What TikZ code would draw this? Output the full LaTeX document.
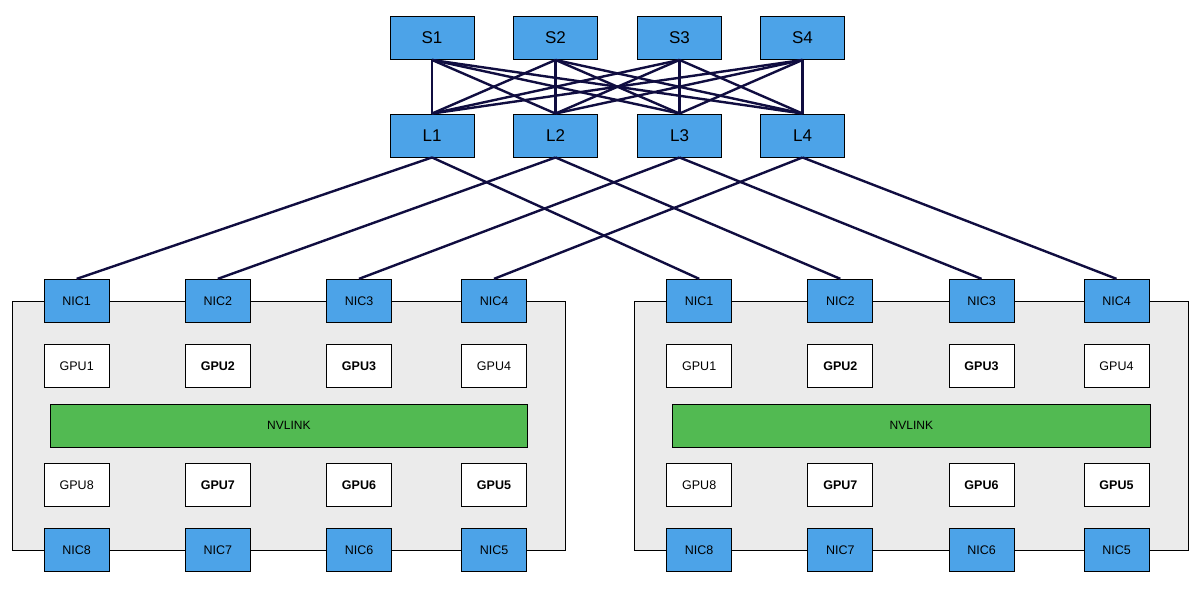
\documentclass[tikz,border=0pt]{standalone}
\usepackage{fontspec}
\setmainfont{Liberation Sans}
\definecolor{swblue}{HTML}{4CA3E8}
\definecolor{nvgreen}{HTML}{52BA52}
\definecolor{srvgray}{HTML}{EBEBEB}
\definecolor{wire}{HTML}{100D40}
\begin{document}
\begin{tikzpicture}[x=1pt,y=-1pt,
  swbox/.style={draw=black,line width=0.9pt,fill=swblue,minimum width=84pt,minimum height=43pt,inner sep=0pt,font=\fontsize{17}{20}\selectfont},
  nicbox/.style={draw=black,line width=0.9pt,fill=swblue,minimum width=65pt,minimum height=43pt,inner sep=0pt,font=\fontsize{12.5}{14}\selectfont},
  gpubox/.style={draw=black,line width=0.9pt,fill=white,minimum width=65pt,minimum height=43pt,inner sep=0pt,font=\fontsize{12.5}{14}\selectfont},
  nvbox/.style={draw=black,line width=0.9pt,fill=nvgreen,minimum width=477.7pt,minimum height=43pt,inner sep=0pt,font=\fontsize{12}{14}\selectfont},
  srvbox/.style={draw=black,line width=0.9pt,fill=srvgray},
  link/.style={draw=wire,line width=2.4pt}
]
\useasboundingbox[fill=white] (0,0) rectangle (1200,595);

% switches
\node[swbox] (S1) at (432,38) {S1};
\node[swbox] (S2) at (555.5,38) {S2};
\node[swbox] (S3) at (679.5,38) {S3};
\node[swbox] (S4) at (802.5,38) {S4};
\node[swbox] (L1) at (432,135.5) {L1};
\node[swbox] (L2) at (555.5,135.5) {L2};
\node[swbox] (L3) at (679.5,135.5) {L3};
\node[swbox] (L4) at (802.5,135.5) {L4};

% servers
\foreach \s/\dx in {A/0,B/622.5}{
  \node[srvbox,minimum width=553.7pt,minimum height=248.3pt,inner sep=0pt] (srv\s) at (288.85+\dx,425.85) {};
  \node[nvbox] (nv\s) at (288.85+\dx,425.8) {NVLINK};
  \node[nicbox] (\s nic1) at (76.7+\dx,300.8) {NIC1};
  \node[nicbox] (\s nic2) at (217.8+\dx,300.8) {NIC2};
  \node[nicbox] (\s nic3) at (359+\dx,300.8) {NIC3};
  \node[nicbox] (\s nic4) at (494+\dx,300.8) {NIC4};
  \node[nicbox] (\s nic8) at (76.7+\dx,549.8) {NIC8};
  \node[nicbox] (\s nic7) at (217.8+\dx,549.8) {NIC7};
  \node[nicbox] (\s nic6) at (359+\dx,549.8) {NIC6};
  \node[nicbox] (\s nic5) at (494+\dx,549.8) {NIC5};
  \node[gpubox] (\s gpu1) at (76.7+\dx,365.8) {GPU1};
  \node[gpubox] (\s gpu2) at (217.8+\dx,365.8) {\textbf{GPU2}};
  \node[gpubox] (\s gpu3) at (359+\dx,365.8) {\textbf{GPU3}};
  \node[gpubox] (\s gpu4) at (494+\dx,365.8) {GPU4};
  \node[gpubox] (\s gpu8) at (76.7+\dx,484.8) {GPU8};
  \node[gpubox] (\s gpu7) at (217.8+\dx,484.8) {\textbf{GPU7}};
  \node[gpubox] (\s gpu6) at (359+\dx,484.8) {\textbf{GPU6}};
  \node[gpubox] (\s gpu5) at (494+\dx,484.8) {\textbf{GPU5}};
}

% spine-leaf mesh
\foreach \i in {1,...,4}{
  \foreach \j in {1,...,4}{
    \draw[link] (S\i.south) -- (L\j.north);
  }
}
% leaf to NICs
\foreach \j in {1,...,4}{
  \draw[link] (L\j.south) -- (Anic\j.north);
  \draw[link] (L\j.south) -- (Bnic\j.north);
}
\end{tikzpicture}
\end{document}
